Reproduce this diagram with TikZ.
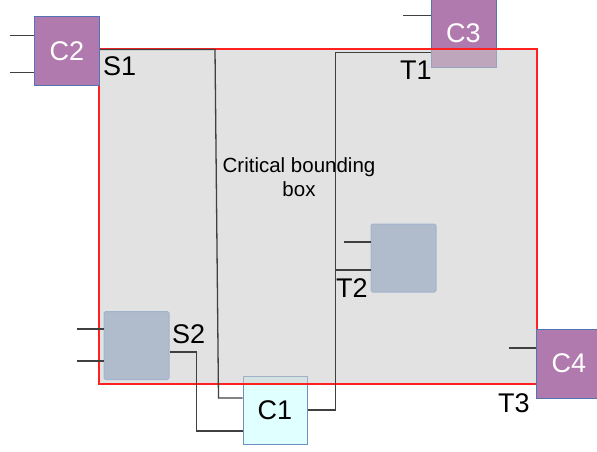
\documentclass[tikz,border=0pt]{standalone}
\usepackage{fontspec}
\setmainfont{Liberation Sans}
\definecolor{compfill}{HTML}{B07AAE}
\definecolor{compline}{HTML}{5273B4}
\definecolor{modfill}{HTML}{B0BCCC}
\definecolor{modline}{HTML}{A2B3CE}
\definecolor{corefill}{HTML}{E0FFFF}
\definecolor{coreline}{HTML}{6E8FC4}
\definecolor{regionfill}{HTML}{CBCBCB}
\definecolor{regionline}{HTML}{FF2020}

\begin{document}
\begin{tikzpicture}[x=1pt, y=-1pt,
    comp/.style={rectangle, draw=compline, fill=compfill, line width=1pt, minimum width=65pt, minimum height=69pt, inner sep=0pt, text=white, font=\fontsize{27}{30}\selectfont},
    mod/.style={rectangle, draw=modline, fill=modfill, rounded corners=1.5pt, line width=1pt, minimum width=65pt, minimum height=68pt, inner sep=0pt},
    core/.style={rectangle, draw=coreline, fill=corefill, line width=1pt, minimum width=64pt, minimum height=68pt, inner sep=0pt, font=\fontsize{27}{30}\selectfont},
    region/.style={rectangle, draw=regionline, fill=regionfill, fill opacity=0.55, line width=1.4pt, inner sep=0pt},
    tag/.style={anchor=base west, inner sep=0pt, font=\fontsize{27}{30}\selectfont},
    wire/.style={draw=black!75, line width=1.3pt}
  ]
    \useasboundingbox (0,0) rectangle (597,452);

    % C3 und C1 liegen teilweise unter dem Bereich
    \node[comp] (c3) at (463.5,33) {C3};
    \node[core] (c1) at (275,410) {C1};

    % kritischer Bereich
    \node[region, minimum width=438pt, minimum height=335pt] (crit) at (318,216.5) {};
    \node[align=center, font=\fontsize{20.5}{24}\selectfont] (crittext) at (299,177) {Critical bounding\\box};

    % weitere Bausteine
    \node[comp] (c2) at (67,51) {C2};
    \node[comp] (c4) at (569,363.5) {C4};
    \node[mod] (s2) at (136.5,345.5) {};
    \node[mod] (t2) at (403.5,258) {};

    % Beschriftungen
    \node[tag] (s1lbl) at (103,75) {S1};
    \node[tag] (s2lbl) at (172,343) {S2};
    \node[tag] (t1lbl) at (400,80) {T1};
    \node[tag] (t2lbl) at (336,297) {T2};
    \node[tag] (t3lbl) at (498,412) {T3};

    % Anschlussstummel
    \draw[wire] ([yshift=15.5pt]c2.west) -- ++(-24pt,0pt);
    \draw[wire] ([yshift=-21.5pt]c2.west) -- ++(-24pt,0pt);
    \draw[wire] ([yshift=17.5pt]c3.west) -- ++(-28pt,0pt);
    \draw[wire] ([yshift=16.5pt]s2.west) -- ++(-27pt,0pt);
    \draw[wire] ([yshift=-15.5pt]s2.west) -- ++(-27pt,0pt);
    \draw[wire] ([yshift=16pt]t2.west) -- ++(-27pt,0pt);
    \draw[wire] ([yshift=15.5pt]c4.west) -- ++(-27pt,0pt);

    % Leitungen
    \draw[wire] ([yshift=1.5pt]c2.east) -- ++(115pt,0pt) -- ([xshift=-24pt,yshift=12pt]c1.west) -- ([yshift=12pt]c1.west);
    \draw[wire] ([yshift=-6.5pt]s2.east) -- ++(27pt,0pt) |- ([yshift=-21pt]c1.west);
    \draw[wire] ([yshift=-19.5pt]c3.west) -| ([xshift=28pt]c1.east) -- (c1.east);
    \draw[wire] ([yshift=-12pt]t2.west) -- ([xshift=-36pt,yshift=-12pt]t2.west);
  \end{tikzpicture}
\end{document}
